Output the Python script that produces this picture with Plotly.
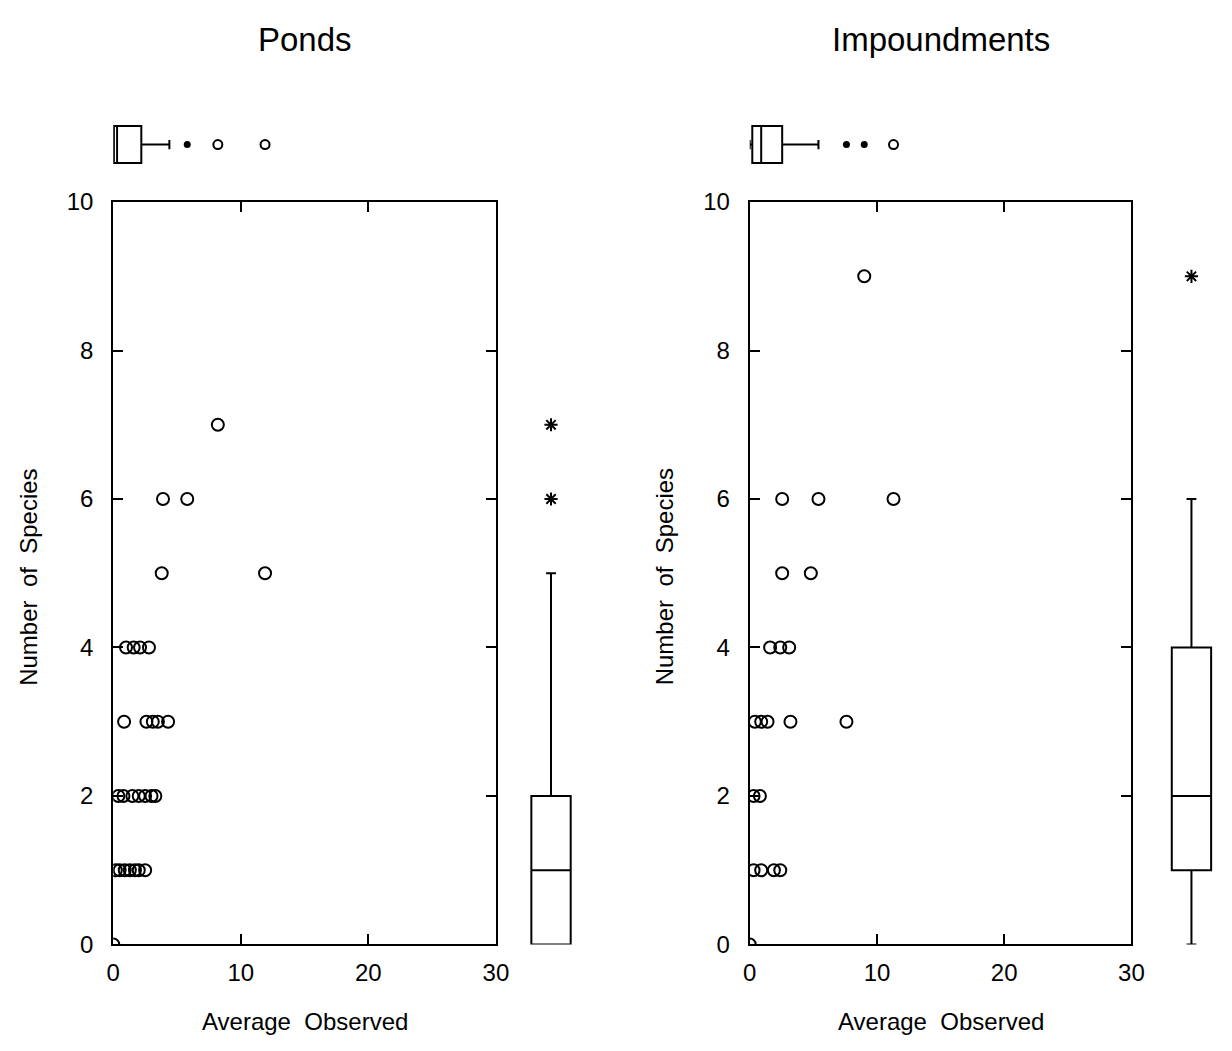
import plotly.graph_objects as go

# ---------------- data ----------------
ponds_x = [0, 0.2, 0.5, 0.9, 1.3, 1.7, 2.0, 2.5,
           0.4, 0.8, 1.5, 2.0, 2.5, 3.0, 3.3,
           0.85, 2.6, 3.1, 3.5, 4.3,
           1.0, 1.6, 2.1, 2.8,
           3.8, 11.9,
           3.9, 5.8,
           8.2]
ponds_y = [0, 1, 1, 1, 1, 1, 1, 1,
           2, 2, 2, 2, 2, 2, 2,
           3, 3, 3, 3, 3,
           4, 4, 4, 4,
           5, 5,
           6, 6,
           7]

imp_x = [0, 0.3, 0.9, 1.9, 2.4,
         0.3, 0.8,
         0.4, 0.9, 1.4, 3.2, 7.6,
         1.6, 2.4, 3.1,
         2.55, 4.8,
         2.55, 5.4, 11.3,
         9.0]
imp_y = [0, 1, 1, 1, 1,
         2, 2,
         3, 3, 3, 3, 3,
         4, 4, 4,
         5, 5,
         6, 6, 6,
         9]

# box summaries (x = Average Observed, y = Number of Species)
ponds_xbox = dict(lowerfence=0, q1=0.05, median=0.3, q3=2.2, upperfence=4.4)
ponds_xout_near = [5.8]
ponds_xout_far = [8.2, 11.9]
ponds_ybox = dict(lowerfence=0, q1=0, median=1, q3=2, upperfence=5)
ponds_yout = [6, 7]

imp_xbox = dict(lowerfence=0, q1=0.2, median=0.9, q3=2.55, upperfence=5.4)
imp_xout_near = [7.6, 9.0]
imp_xout_far = [11.3]
imp_ybox = dict(lowerfence=0, q1=1, median=2, q3=4, upperfence=6)
imp_yout = [9]

titles = ["Ponds", "Impoundments"]
x_ticks = [0, 10, 20, 30]
y_ticks = [0, 2, 4, 6, 8, 10]

# ---------------- layout geometry ----------------
W, H = 1232, 1051
FONT = "Liberation Sans"


def px_x(p):
    return p / W


def px_y(p):
    return 1 - p / H


main_y_dom = [px_y(955), px_y(193)]
left_x_dom = [px_x(108), px_x(497)]
right_x_dom = [px_x(755), px_x(1143)]
side_left_dom = [px_x(528), px_x(578)]
side_right_dom = [px_x(1179), px_x(1229)]
top_dom = [px_y(159), px_y(109)]

fig = go.Figure()

LINE = dict(color="black", width=2)

panels = [
    dict(xs=ponds_x, ys=ponds_y, xbox=ponds_xbox, xnear=ponds_xout_near, xfar=ponds_xout_far,
         ybox=ponds_ybox, yout=ponds_yout, xa="x", ya="y", sx="x3", ty="y3"),
    dict(xs=imp_x, ys=imp_y, xbox=imp_xbox, xnear=imp_xout_near, xfar=imp_xout_far,
         ybox=imp_ybox, yout=imp_yout, xa="x2", ya="y2", sx="x4", ty="y4"),
]

for p in panels:
    # scatter
    fig.add_trace(go.Scatter(x=p["xs"], y=p["ys"], mode="markers", xaxis=p["xa"], yaxis=p["ya"],
                             marker=dict(symbol="circle-open", size=12, color="black",
                                         line=dict(width=2, color="black")),
                             showlegend=False, hoverinfo="x+y"))
    # side (vertical) box for y
    b = p["ybox"]
    fig.add_trace(go.Box(x=[0], q1=[b["q1"]], median=[b["median"]], q3=[b["q3"]],
                         lowerfence=[b["lowerfence"]], upperfence=[b["upperfence"]],
                         width=1.6, whiskerwidth=0.25, fillcolor="white", line=LINE,
                         boxpoints=False, xaxis=p["sx"], yaxis=p["ya"], showlegend=False))
    fig.add_trace(go.Scatter(x=[0] * len(p["yout"]), y=p["yout"], mode="markers",
                             xaxis=p["sx"], yaxis=p["ya"],
                             marker=dict(symbol="asterisk-open", size=11, color="black",
                                         line=dict(width=2, color="black")),
                             showlegend=False))
    # top (horizontal) box for x
    b = p["xbox"]
    fig.add_trace(go.Box(y=[0], q1=[b["q1"]], median=[b["median"]], q3=[b["q3"]],
                         lowerfence=[b["lowerfence"]], upperfence=[b["upperfence"]],
                         orientation="h", width=1.52, whiskerwidth=0.25, fillcolor="white",
                         line=LINE, boxpoints=False, xaxis=p["xa"], yaxis=p["ty"],
                         showlegend=False))
    fig.add_trace(go.Scatter(x=p["xnear"], y=[0] * len(p["xnear"]), mode="markers",
                             xaxis=p["xa"], yaxis=p["ty"],
                             marker=dict(symbol="circle", size=7, color="black"),
                             showlegend=False))
    fig.add_trace(go.Scatter(x=p["xfar"], y=[0] * len(p["xfar"]), mode="markers",
                             xaxis=p["xa"], yaxis=p["ty"],
                             marker=dict(symbol="circle-open", size=9, color="black",
                                         line=dict(width=2, color="black")),
                             showlegend=False))

tickfont = dict(family=FONT, size=24, color="black")
common_x = dict(range=[0, 30], tickvals=x_ticks, ticks="inside", ticklen=10, tickwidth=2,
                tickcolor="black", showline=True, linecolor="black", linewidth=2,
                mirror="ticks", showgrid=False, zeroline=False, tickfont=tickfont,
                ticklabelstandoff=6, fixedrange=True)
common_y = dict(range=[0, 10], tickvals=y_ticks, ticks="inside", ticklen=10, tickwidth=2,
                tickcolor="black", showline=True, linecolor="black", linewidth=2,
                mirror="ticks", showgrid=False, zeroline=False, tickfont=tickfont,
                ticklabelstandoff=13, domain=main_y_dom, fixedrange=True)
hidden = dict(visible=False, range=[-1, 1], showgrid=False, zeroline=False, fixedrange=True)

fig.update_layout(
    width=W, height=H,
    margin=dict(l=0, r=0, t=0, b=0),
    paper_bgcolor="white", plot_bgcolor="rgba(0,0,0,0)",
    showlegend=False,
    xaxis=dict(common_x, domain=left_x_dom, anchor="y"),
    yaxis=dict(common_y, anchor="x"),
    xaxis2=dict(common_x, domain=right_x_dom, anchor="y2"),
    yaxis2=dict(common_y, anchor="x2"),
    xaxis3=dict(hidden, domain=side_left_dom, anchor="y"),
    xaxis4=dict(hidden, domain=side_right_dom, anchor="y2"),
    yaxis3=dict(hidden, domain=top_dom, anchor="x"),
    yaxis4=dict(hidden, domain=top_dom, anchor="x2"),
)

annos = []
for title, dom, ylab_x in [(titles[0], left_x_dom, 21), (titles[1], right_x_dom, 668)]:
    cx = (dom[0] + dom[1]) / 2
    annos.append(dict(text=title, x=cx, y=px_y(26), xref="paper", yref="paper",
                      showarrow=False, xanchor="center", yanchor="middle",
                      font=dict(family=FONT, size=33, color="black")))
    annos.append(dict(text="Average  Observed", x=cx, y=px_y(1034), xref="paper", yref="paper",
                      showarrow=False, xanchor="center", yanchor="middle",
                      font=dict(family=FONT, size=24, color="black")))
    annos.append(dict(text="Number  of  Species", x=px_x(ylab_x), y=px_y(578),
                      xref="paper", yref="paper", showarrow=False, textangle=-90,
                      xanchor="center", yanchor="middle",
                      font=dict(family=FONT, size=24, color="black")))
fig.update_layout(annotations=annos)

fig.write_html("out.html")
